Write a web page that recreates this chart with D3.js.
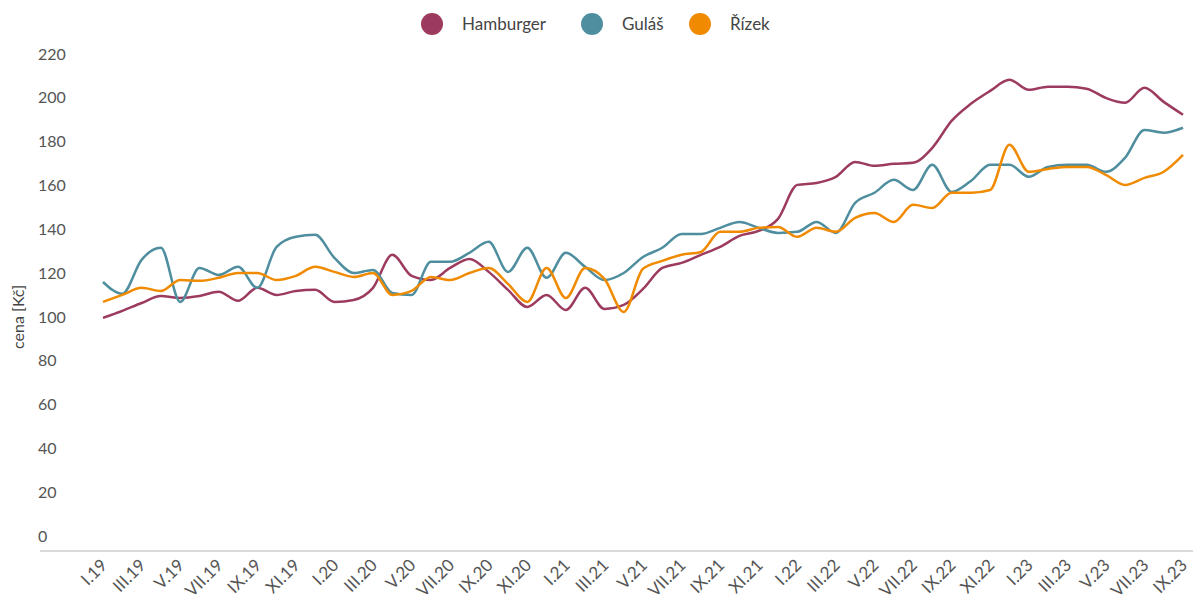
<!DOCTYPE html>
<html>
<head>
<meta charset="utf-8">
<script src="https://cdn.jsdelivr.net/npm/d3@7"></script>
<style>
  body { margin: 0; background: #fff; }
  svg { display: block; font-family: Lato, "Open Sans", sans-serif; }
</style>
</head>
<body>
<div id="chart"></div>
<script>
// months I.19 .. IX.23
const romans = ["I", "II", "III", "IV", "V", "VI", "VII", "VIII", "IX", "X", "XI", "XII"];
const months = [];
for (let y = 19; y <= 23; y++) {
  for (let m = 0; m < 12; m++) {
    if (y === 23 && m > 8) break;
    months.push(`${romans[m]}.${y}`);
  }
}

const hamburger = [106.4, 109.6, 113.2, 116.4, 115.5, 116.4, 118.3, 114.2, 120.1, 116.9, 118.7, 119.2,
  113.7, 114.6, 120.1, 135.2, 125.6, 123.7, 129.2, 133.3, 127.4, 119.2, 111.4, 116.9,
  110.0, 120.1, 110.5, 112.3, 119.6, 129.2, 131.5, 135.2, 138.8, 143.8, 146.1, 151.6,
  167.1, 168.0, 170.8, 177.6, 175.8, 176.7, 177.2, 184.0, 196.3, 204.1, 210.0, 215.1,
  210.5, 211.9, 211.9, 211.0, 206.8, 204.6, 211.4, 205.0, 199.1];

const gulas = [122.8, 117.4, 132.9, 138.4, 113.7, 129.2, 126.0, 129.7, 120.1, 138.8, 143.4, 144.3,
  133.8, 126.9, 128.3, 117.8, 116.9, 132.0, 132.0, 136.1, 141.1, 127.4, 138.4, 124.7,
  136.1, 129.7, 123.7, 126.9, 134.2, 138.4, 144.7, 144.7, 147.5, 150.2, 147.5, 145.2,
  145.7, 150.2, 145.2, 158.9, 163.5, 169.4, 164.8, 176.3, 163.9, 168.9, 176.3, 176.3,
  170.8, 175.3, 176.3, 176.3, 173.1, 179.5, 192.2, 190.9, 193.2];

const rizek = [113.7, 116.9, 120.1, 118.7, 123.7, 123.3, 124.7, 126.9, 126.9, 123.7, 125.6, 129.7,
  127.4, 125.1, 126.9, 116.9, 118.7, 125.1, 123.7, 126.9, 129.2, 121.9, 113.7, 129.2,
  115.5, 129.2, 124.2, 109.1, 128.8, 132.4, 135.2, 136.5, 145.7, 145.7, 147.5, 147.9,
  143.4, 147.5, 145.7, 152.1, 154.3, 150.2, 158.0, 156.6, 163.5, 163.5, 164.8, 185.4,
  173.1, 174.4, 175.3, 175.3, 171.7, 167.1, 170.3, 173.1, 180.8];

const seriesNames = ["Hamburger", "Guláš", "Řízek"];
const seriesColors = ["#9c3b5f", "#4e8e9e", "#f08a00"];
const yTicks = [0, 20, 40, 60, 80, 100, 120, 140, 160, 180, 200, 220];

const width = 1193, height = 613;
const svg = d3.select("#chart").append("svg")
  .attr("width", width)
  .attr("height", height);

const x = d3.scalePoint().domain(months).range([103, 1183]);
const y = d3.scaleLinear().domain([0, 220]).range([551, 69]);

// y labels sit above their grid value
const yAxis = svg.append("g");
yAxis.selectAll("text")
  .data(yTicks)
  .join("text")
  .attr("x", 38)
  .attr("y", (d) => y(d) - 15)
  .attr("dy", "0.35em")
  .attr("fill", "#555")
  .style("font-size", "16px")
  .text((d) => d);

svg.append("text")
  .attr("transform", `translate(18,${y(100) - 15}) rotate(-90)`)
  .attr("text-anchor", "middle")
  .attr("dy", "0.35em")
  .attr("fill", "#444")
  .style("font-size", "16px")
  .text("cena [Kč]");

// x axis line
svg.append("line")
  .attr("x1", 40).attr("x2", width)
  .attr("y1", y(0)).attr("y2", y(0))
  .attr("stroke", "#ccc")
  .attr("stroke-width", 1.5);

const xAxis = svg.append("g");
xAxis.selectAll("text")
  .data(months.filter((d, i) => i % 2 === 0))
  .join("text")
  .attr("transform", (d) => `translate(${x(d) + 1},${y(0) + 11}) rotate(-45)`)
  .attr("text-anchor", "end")
  .attr("dy", "0.35em")
  .attr("fill", "#555")
  .style("font-size", "17px")
  .text((d) => d);

// lines
const line = d3.line()
  .x((d, i) => x(months[i]))
  .y((d) => y(d))
  .curve(d3.curveMonotoneX);

const allSeries = [hamburger, gulas, rizek];
svg.append("g")
  .selectAll("path")
  .data(allSeries)
  .join("path")
  .attr("d", line)
  .attr("fill", "none")
  .attr("stroke", (d, i) => seriesColors[i])
  .attr("stroke-width", 2.5)
  .attr("stroke-linejoin", "round");

// legend
const legendX = [432, 592, 700];
const legend = svg.append("g");
const items = legend.selectAll("g")
  .data(seriesNames)
  .join("g")
  .attr("transform", (d, i) => `translate(${legendX[i]},24)`);
items.append("circle")
  .attr("r", 11)
  .attr("fill", (d, i) => seriesColors[i]);
items.append("text")
  .attr("x", 30)
  .attr("dy", "0.35em")
  .attr("fill", "#444")
  .style("font-size", "17px")
  .text((d) => d);
</script>
</body>
</html>
